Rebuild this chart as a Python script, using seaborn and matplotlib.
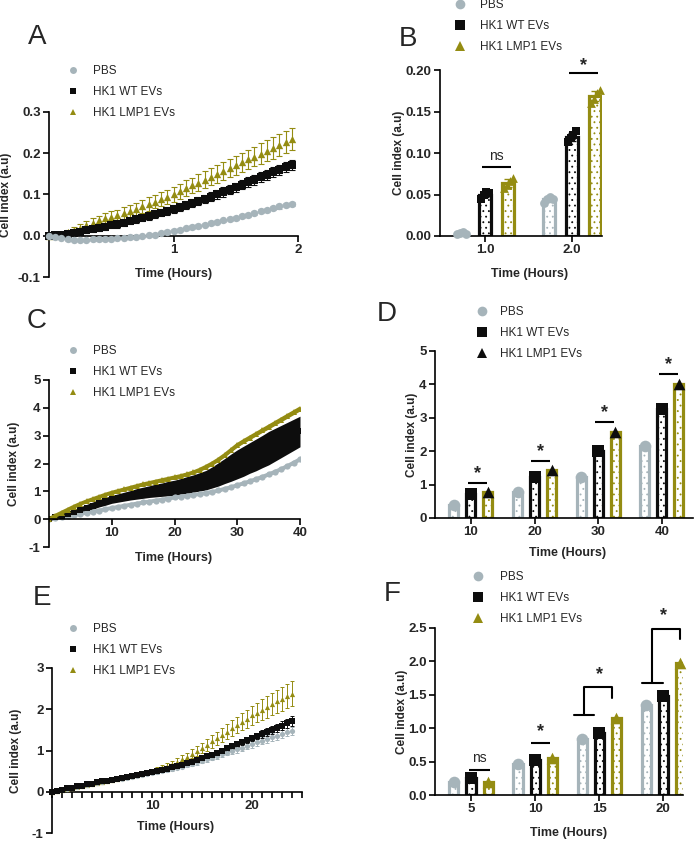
import numpy as np
import pandas as pd
import matplotlib
matplotlib.use("Agg")
import matplotlib.pyplot as plt
from matplotlib.lines import Line2D
from matplotlib.ticker import FormatStrFormatter, MultipleLocator
import seaborn as sns

GROUPS = ["PBS", "HK1 WT EVs", "HK1 LMP1 EVs"]
GREY, BLACK, OLIVE = "#a6b4ba", "#0d0d0d", "#948c12"
MARKERS = ["o", "s", "^"]

# ---- A: first 2 h, 3-min readings
a_time = [0.00, 0.05, 0.10, 0.15, 0.20, 0.25, 0.30, 0.35, 0.40, 0.45,
          0.50, 0.55, 0.60, 0.65, 0.70, 0.75, 0.80, 0.85, 0.90, 0.95,
          1.00, 1.05, 1.10, 1.15, 1.20, 1.25, 1.30, 1.35, 1.40, 1.45,
          1.50, 1.55, 1.60, 1.65, 1.70, 1.75, 1.80, 1.85, 1.90, 1.95]
a_pbs = [0.000, -0.002, -0.006, -0.009, -0.010, -0.010, -0.010, -0.009, -0.009, -0.008,
         -0.007, -0.006, -0.005, -0.004, -0.002, -0.001, 0.001, 0.003, 0.006, 0.009,
         0.012, 0.015, 0.018, 0.021, 0.024, 0.027, 0.031, 0.034, 0.037, 0.041,
         0.044, 0.047, 0.051, 0.055, 0.059, 0.063, 0.067, 0.071, 0.075, 0.078]
a_wt = [0.000, 0.001, 0.002, 0.004, 0.007, 0.010, 0.013, 0.016, 0.019, 0.022,
        0.025, 0.028, 0.032, 0.036, 0.040, 0.044, 0.048, 0.052, 0.056, 0.060,
        0.064, 0.069, 0.074, 0.079, 0.084, 0.089, 0.095, 0.100, 0.106, 0.112,
        0.118, 0.124, 0.130, 0.136, 0.142, 0.148, 0.154, 0.160, 0.166, 0.172]
a_lmp1 = [0.000, 0.002, 0.005, 0.009, 0.014, 0.020, 0.026, 0.032, 0.037, 0.042,
          0.046, 0.050, 0.055, 0.060, 0.065, 0.071, 0.077, 0.083, 0.089, 0.095,
          0.101, 0.108, 0.115, 0.122, 0.129, 0.136, 0.143, 0.150, 0.157, 0.164,
          0.171, 0.178, 0.185, 0.192, 0.199, 0.206, 0.213, 0.220, 0.227, 0.235]
a_pbs_err = [0.000, 0.002, 0.003, 0.003, 0.003, 0.003, 0.003, 0.003, 0.003, 0.003,
             0.003, 0.003, 0.003, 0.003, 0.003, 0.003, 0.003, 0.003, 0.004, 0.004,
             0.004, 0.004, 0.004, 0.004, 0.004, 0.004, 0.004, 0.004, 0.004, 0.005,
             0.005, 0.005, 0.005, 0.005, 0.005, 0.005, 0.005, 0.005, 0.005, 0.005]
a_wt_err = [0.000, 0.001, 0.002, 0.003, 0.004, 0.005, 0.006, 0.006, 0.007, 0.007,
            0.007, 0.008, 0.008, 0.008, 0.008, 0.009, 0.009, 0.009, 0.009, 0.009,
            0.010, 0.010, 0.010, 0.010, 0.010, 0.010, 0.011, 0.011, 0.011, 0.011,
            0.011, 0.011, 0.012, 0.012, 0.012, 0.012, 0.012, 0.012, 0.012, 0.012]
a_lmp1_err = [0.000, 0.002, 0.004, 0.006, 0.008, 0.009, 0.010, 0.011, 0.012, 0.012,
              0.013, 0.013, 0.014, 0.014, 0.015, 0.015, 0.016, 0.016, 0.017, 0.017,
              0.018, 0.018, 0.019, 0.019, 0.020, 0.020, 0.021, 0.021, 0.022, 0.022,
              0.023, 0.023, 0.024, 0.024, 0.025, 0.025, 0.026, 0.026, 0.027, 0.027]

# ---- B: replicate wells at 1 h and 2 h
b_time = ["1.0", "2.0"]
b_pbs = [[0.002, 0.004, 0.005, 0.003], [0.040, 0.044, 0.047, 0.045]]
b_wt = [[0.045, 0.050, 0.053, 0.052], [0.113, 0.118, 0.122, 0.126]]
b_lmp1 = [[0.058, 0.062, 0.066, 0.070], [0.160, 0.165, 0.172, 0.176]]
b_sig = ["ns", "*"]
b_sig_y = [0.083, 0.196]

# ---- C: 40 h, hourly
c_time = [0, 1, 2, 3, 4, 5, 6, 7, 8, 9,
          10, 11, 12, 13, 14, 15, 16, 17, 18, 19,
          20, 21, 22, 23, 24, 25, 26, 27, 28, 29,
          30, 31, 32, 33, 34, 35, 36, 37, 38, 39, 40]
c_pbs = [0.00, 0.03, 0.07, 0.11, 0.15, 0.19, 0.23, 0.27, 0.31, 0.36,
         0.40, 0.44, 0.48, 0.52, 0.56, 0.60, 0.63, 0.67, 0.70, 0.74,
         0.78, 0.81, 0.84, 0.87, 0.90, 0.94, 0.98, 1.03, 1.09, 1.15,
         1.22, 1.29, 1.36, 1.44, 1.52, 1.61, 1.70, 1.80, 1.91, 2.03, 2.15]
c_wt = [0.00, 0.06, 0.12, 0.19, 0.26, 0.33, 0.41, 0.49, 0.57, 0.64,
        0.71, 0.76, 0.81, 0.86, 0.91, 0.95, 0.99, 1.03, 1.06, 1.10,
        1.13, 1.18, 1.23, 1.28, 1.34, 1.40, 1.50, 1.61, 1.73, 1.85,
        1.97, 2.08, 2.20, 2.31, 2.43, 2.55, 2.67, 2.79, 2.91, 3.03, 3.15]
c_lmp1 = [0.00, 0.12, 0.23, 0.34, 0.45, 0.55, 0.64, 0.72, 0.80, 0.88,
          0.95, 1.01, 1.07, 1.13, 1.19, 1.25, 1.30, 1.35, 1.40, 1.45,
          1.50, 1.55, 1.61, 1.68, 1.77, 1.88, 2.00, 2.14, 2.30, 2.48,
          2.66, 2.80, 2.93, 3.06, 3.19, 3.32, 3.45, 3.58, 3.71, 3.84, 3.97]
c_pbs_err = [0.00, 0.01, 0.01, 0.02, 0.02, 0.02, 0.02, 0.02, 0.02, 0.02,
             0.02, 0.02, 0.02, 0.02, 0.02, 0.02, 0.03, 0.03, 0.03, 0.03,
             0.03, 0.03, 0.03, 0.03, 0.03, 0.03, 0.04, 0.04, 0.04, 0.04,
             0.04, 0.04, 0.04, 0.04, 0.05, 0.05, 0.05, 0.05, 0.05, 0.05, 0.05]
c_wt_err = [0.00, 0.03, 0.05, 0.07, 0.09, 0.11, 0.12, 0.13, 0.13, 0.14,
            0.14, 0.15, 0.16, 0.17, 0.19, 0.20, 0.21, 0.23, 0.24, 0.26,
            0.27, 0.28, 0.30, 0.31, 0.33, 0.35, 0.38, 0.42, 0.45, 0.49,
            0.52, 0.54, 0.55, 0.57, 0.58, 0.60, 0.59, 0.58, 0.57, 0.56, 0.55]
c_lmp1_err = [0.00, 0.01, 0.02, 0.02, 0.03, 0.03, 0.03, 0.03, 0.03, 0.03,
              0.04, 0.04, 0.04, 0.04, 0.04, 0.04, 0.04, 0.04, 0.05, 0.05,
              0.05, 0.05, 0.05, 0.05, 0.05, 0.06, 0.06, 0.06, 0.06, 0.06,
              0.07, 0.07, 0.07, 0.07, 0.07, 0.08, 0.08, 0.08, 0.08, 0.08, 0.08]

# ---- D: means at 10/20/30/40 h
d_time = ["10", "20", "30", "40"]
d_pbs = [0.40, 0.78, 1.22, 2.15]
d_wt = [0.72, 1.24, 2.00, 3.25]
d_lmp1 = [0.77, 1.45, 2.57, 4.00]
d_sig_y = [1.05, 1.72, 2.87, 4.30]

# ---- E: 24 h, half-hourly
e_time = [0.0, 0.5, 1.0, 1.5, 2.0, 2.5, 3.0, 3.5, 4.0, 4.5,
          5.0, 5.5, 6.0, 6.5, 7.0, 7.5, 8.0, 8.5, 9.0, 9.5,
          10.0, 10.5, 11.0, 11.5, 12.0, 12.5, 13.0, 13.5, 14.0, 14.5,
          15.0, 15.5, 16.0, 16.5, 17.0, 17.5, 18.0, 18.5, 19.0, 19.5,
          20.0, 20.5, 21.0, 21.5, 22.0, 22.5, 23.0, 23.5, 24.0]
e_pbs = [0.00, 0.02, 0.04, 0.06, 0.09, 0.11, 0.14, 0.16, 0.19, 0.21,
         0.24, 0.26, 0.28, 0.30, 0.32, 0.34, 0.36, 0.38, 0.40, 0.42,
         0.45, 0.47, 0.50, 0.52, 0.55, 0.58, 0.61, 0.64, 0.68, 0.71,
         0.75, 0.79, 0.83, 0.87, 0.91, 0.95, 0.99, 1.03, 1.07, 1.11,
         1.15, 1.20, 1.24, 1.28, 1.32, 1.36, 1.40, 1.44, 1.48]
e_wt = [0.00, 0.03, 0.05, 0.08, 0.10, 0.13, 0.15, 0.18, 0.20, 0.23,
        0.25, 0.27, 0.29, 0.31, 0.33, 0.36, 0.38, 0.41, 0.43, 0.46,
        0.48, 0.51, 0.53, 0.56, 0.59, 0.62, 0.65, 0.69, 0.73, 0.77,
        0.81, 0.86, 0.90, 0.95, 1.00, 1.05, 1.10, 1.15, 1.20, 1.25,
        1.30, 1.35, 1.40, 1.45, 1.50, 1.55, 1.60, 1.66, 1.72]
e_lmp1 = [0.00, 0.02, 0.04, 0.06, 0.09, 0.11, 0.14, 0.16, 0.19, 0.21,
          0.24, 0.26, 0.28, 0.30, 0.33, 0.35, 0.38, 0.41, 0.44, 0.47,
          0.51, 0.55, 0.59, 0.63, 0.68, 0.73, 0.79, 0.85, 0.92, 0.99,
          1.06, 1.14, 1.22, 1.30, 1.38, 1.46, 1.54, 1.62, 1.70, 1.77,
          1.85, 1.92, 1.99, 2.06, 2.12, 2.19, 2.25, 2.32, 2.38]
e_pbs_err = [0.00, 0.00, 0.01, 0.01, 0.01, 0.01, 0.01, 0.01, 0.01, 0.01,
             0.01, 0.01, 0.01, 0.01, 0.01, 0.02, 0.02, 0.02, 0.02, 0.02,
             0.03, 0.03, 0.03, 0.03, 0.04, 0.04, 0.04, 0.05, 0.05, 0.05,
             0.06, 0.06, 0.06, 0.07, 0.07, 0.07, 0.08, 0.08, 0.08, 0.08,
             0.09, 0.09, 0.09, 0.09, 0.10, 0.10, 0.10, 0.10, 0.10]
e_wt_err = [0.00, 0.00, 0.01, 0.01, 0.01, 0.01, 0.01, 0.01, 0.01, 0.01,
            0.01, 0.01, 0.01, 0.01, 0.01, 0.01, 0.01, 0.01, 0.02, 0.02,
            0.02, 0.02, 0.02, 0.02, 0.03, 0.03, 0.03, 0.03, 0.04, 0.04,
            0.04, 0.05, 0.05, 0.05, 0.06, 0.06, 0.06, 0.07, 0.07, 0.08,
            0.08, 0.08, 0.09, 0.09, 0.10, 0.10, 0.11, 0.11, 0.12]
e_lmp1_err = [0.00, 0.01, 0.01, 0.01, 0.01, 0.01, 0.01, 0.02, 0.02, 0.02,
              0.02, 0.02, 0.02, 0.02, 0.02, 0.02, 0.03, 0.03, 0.03, 0.04,
              0.04, 0.05, 0.05, 0.06, 0.07, 0.08, 0.09, 0.10, 0.11, 0.12,
              0.13, 0.14, 0.15, 0.16, 0.17, 0.18, 0.19, 0.20, 0.21, 0.22,
              0.23, 0.24, 0.25, 0.26, 0.27, 0.28, 0.29, 0.30, 0.31]

# ---- F: means at 5/10/15/20 h
f_time = ["5", "10", "15", "20"]
f_pbs = [0.20, 0.47, 0.84, 1.35]
f_wt = [0.25, 0.52, 0.93, 1.48]
f_lmp1 = [0.20, 0.56, 1.15, 1.98]

# ------------------------------------------------------------------ layout
W, H = 694, 841
sns.set_style("ticks")
plt.rcParams["font.family"] = ["Liberation Sans", "DejaVu Sans"]
plt.rcParams["font.weight"] = "bold"
plt.rcParams["axes.unicode_minus"] = False
plt.rcParams["hatch.linewidth"] = 0.6

fig = plt.figure(figsize=(W / 100, H / 100), dpi=100)
SLOT = 0.8 / 3  # hue offset used by barplot(width=0.8) with three groups


def add_axes(left, top, right, bottom):
    return fig.add_axes([left / W, 1 - bottom / H, (right - left) / W, (bottom - top) / H])


def style(ax, ylab_x, xlab_x, xlab_y):
    sns.despine(ax=ax)
    for s in ("left", "bottom"):
        ax.spines[s].set_linewidth(1.2)
        ax.spines[s].set_color("black")
    ax.tick_params(direction="out", length=4, width=1.2, labelsize=9.5, color="black", pad=2)
    ax.set_ylabel("Cell index (a.u)", fontsize=8.5, fontweight="bold")
    ax.set_xlabel("Time (Hours)", fontsize=9, fontweight="bold")
    ax.yaxis.set_label_coords(ylab_x, 0.5)
    ax.xaxis.set_label_coords(xlab_x, xlab_y)


def add_legend(ax, x0, y0, pad, colors, ms):
    handles = [Line2D([], [], ls="none", marker=m, color=c, markersize=ms, markeredgewidth=0)
               for m, c in zip(MARKERS, colors)]
    ax.legend(handles, GROUPS, loc="upper left", bbox_to_anchor=(x0 / W, 1 - y0 / H),
              bbox_transform=fig.transFigure, frameon=False, borderpad=0, borderaxespad=0,
              handlelength=1.0, handletextpad=pad, labelspacing=0.75,
              prop={"size": 8.5, "weight": "normal"})


def letter(cx, cy, s):
    fig.text(cx / W, 1 - cy / H, s, fontsize=20, fontweight="normal", ha="center", va="center")


def draw_bars(ax, times, means, point_colors=None, size=70):
    frame = pd.DataFrame({
        "time": times * 3,
        "group": [g for g in GROUPS for _ in times],
        "value": [v for series in means for v in series],
    })
    sns.barplot(data=frame, x="time", y="value", hue="group", order=times, hue_order=GROUPS,
                palette=[GREY, BLACK, OLIVE], saturation=1, width=0.8, gap=0.47,
                errorbar=None, legend=False, ax=ax)
    for bar in ax.patches:
        c = bar.get_facecolor()
        bar.set_facecolor("white")
        bar.set_edgecolor(c)
        bar.set_linewidth(2.3)
        bar.set_hatch("...")
    if point_colors is None:
        return
    for g, (series, color) in enumerate(zip(means, point_colors)):
        xs = np.arange(len(times)) + (g - 1) * SLOT
        sns.scatterplot(x=xs, y=series, marker=MARKERS[g], s=size, color=color,
                        linewidth=0, zorder=4, clip_on=False, legend=False, ax=ax)


def sig_line(ax, x0, x1, y, label, ty, fs):
    ax.plot([x0, x1], [y, y], color="black", lw=1.5, clip_on=False, solid_capstyle="butt")
    weight = "normal" if label == "ns" else "bold"
    ax.text((x0 + x1) / 2, ty, label, ha="center", va="center", fontsize=fs,
            fontweight=weight, clip_on=False)


# ---- A
ax = add_axes(49, 112, 298, 277)
for vals, err, m, c in [(a_lmp1, a_lmp1_err, "^", OLIVE), (a_wt, a_wt_err, "s", BLACK),
                        (a_pbs, a_pbs_err, "o", GREY)]:
    ax.errorbar(a_time, vals, yerr=err, fmt="none", ecolor=c, elinewidth=0.8,
                capsize=2.2, capthick=0.8)
    sns.scatterplot(x=a_time, y=vals, marker=m, color=c, s=28, linewidth=0,
                    zorder=3, clip_on=False, legend=False, ax=ax)
ax.set_xlim(0, 2)
ax.set_ylim(-0.1, 0.3)
ax.set_xticks([1, 2])
ax.set_yticks([-0.1, 0.0, 0.1, 0.2, 0.3])
ax.yaxis.set_major_formatter(FormatStrFormatter("%.1f"))
style(ax, -0.15, 0.5, 0.055)
ax.spines["bottom"].set_position(("data", 0))
add_legend(ax, 67, 65, 1.2, [GREY, BLACK, OLIVE], 5)
letter(37, 37, "A")

# ---- B
ax = add_axes(440, 70, 602, 236)
b_reps = [b_pbs, b_wt, b_lmp1]
draw_bars(ax, b_time, [np.mean(r, axis=1) for r in b_reps])
jitter = [-0.05, -0.017, 0.017, 0.05]
for g, (reps, color) in enumerate(zip(b_reps, [GREY, BLACK, OLIVE])):
    reps = np.array(reps)
    xs = np.arange(len(b_time)) + (g - 1) * SLOT
    ax.errorbar(xs, reps.mean(axis=1), yerr=reps.std(axis=1), fmt="none", ecolor=color,
                elinewidth=1.0, capsize=3, capthick=1.0, zorder=3)
    px = (xs[:, None] + np.array(jitter)[None, :]).ravel()
    sns.scatterplot(x=px, y=reps.ravel(), marker=MARKERS[g], s=40, color=color,
                    linewidth=0, zorder=4, clip_on=False, legend=False, ax=ax)
for i, (lab, y) in enumerate(zip(b_sig, b_sig_y)):
    sig_line(ax, i - 0.03, i + SLOT + 0.03, y, lab,
             y + (0.013 if lab == "ns" else 0.009), 10 if lab == "ns" else 13)
ax.set_xlim(-0.517, 1.345)
ax.set_ylim(0, 0.2)
ax.set_yticks([0, 0.05, 0.10, 0.15, 0.20])
ax.yaxis.set_major_formatter(FormatStrFormatter("%.2f"))
style(ax, -0.216, 0.55, -0.193)
add_legend(ax, 454, -1, 1.2, [GREY, BLACK, OLIVE], 7)
letter(408, 39, "B")

# ---- C
ax = add_axes(49, 380, 300, 547)
for vals, err, m, c in [(c_pbs, c_pbs_err, "o", GREY), (c_wt, c_wt_err, "s", BLACK),
                        (c_lmp1, c_lmp1_err, "^", OLIVE)]:
    v, e = np.array(vals), np.array(err)
    ax.fill_between(c_time, v - e, v + e, color=c, lw=0)
    sns.lineplot(x=c_time, y=vals, color=c, lw=2.8, marker=m, markersize=4.5,
                 markeredgewidth=0, errorbar=None, ax=ax)
ax.set_xlim(0, 40)
ax.set_ylim(-1, 5)
ax.set_xticks([10, 20, 30, 40])
ax.set_yticks([-1, 0, 1, 2, 3, 4, 5])
style(ax, -0.116, 0.498, -0.03)
ax.spines["bottom"].set_position(("data", 0))
add_legend(ax, 67, 345, 1.2, [GREY, BLACK, OLIVE], 5)
letter(37, 321, "C")

# ---- D
ax = add_axes(435, 351, 693, 518)
draw_bars(ax, d_time, [d_pbs, d_wt, d_lmp1], [GREY, BLACK, BLACK])
for i, y in enumerate(d_sig_y):
    sig_line(ax, i - 0.05, i + 0.25, y, "*", y + 0.28, 13)
ax.set_xlim(-0.565, 3.49)
ax.set_ylim(0, 5)
ax.set_yticks([0, 1, 2, 3, 4, 5])
style(ax, -0.066, 0.514, -0.174)
add_legend(ax, 476, 306, 1.03, [GREY, BLACK, BLACK], 7)
letter(387, 314, "D")

# ---- E
ax = add_axes(52, 668, 302, 833)
for vals, err, m, c in [(e_lmp1, e_lmp1_err, "^", OLIVE), (e_pbs, e_pbs_err, "o", GREY),
                        (e_wt, e_wt_err, "s", BLACK)]:
    ax.errorbar(e_time, vals, yerr=err, fmt="none", ecolor=c, elinewidth=0.7,
                capsize=1.5, capthick=0.7)
    sns.scatterplot(x=e_time, y=vals, marker=m, color=c, s=14, linewidth=0,
                    zorder=3, clip_on=False, legend=False, ax=ax)
ax.set_xlim(0, 25)
ax.set_ylim(-1, 3)
ax.set_xticks([10, 20])
ax.xaxis.set_minor_locator(MultipleLocator(1))
ax.set_yticks([-1, 0, 1, 2, 3])
style(ax, -0.12, 0.494, 0.07)
ax.tick_params(axis="x", which="minor", length=4, width=1.2, color="black")
ax.spines["bottom"].set_position(("data", 0))
add_legend(ax, 67, 623, 1.2, [GREY, BLACK, OLIVE], 5)
letter(42, 598, "E")

# ---- F
ax = add_axes(435, 628, 683, 795)
draw_bars(ax, f_time, [f_pbs, f_wt, f_lmp1], [GREY, BLACK, OLIVE])
sig_line(ax, -0.03, 0.30, 0.37, "ns", 0.55, 10)
sig_line(ax, 0.94, 1.23, 0.78, "*", 0.95, 13)
# brackets comparing the PBS/WT pair with LMP1: (group, low bar x0, x1, stem x, right x, low y, top y, drop y, star y)
brackets = [(2, -0.39, -0.08, -0.23, 0.20, 1.20, 1.61, 1.45, 1.80),
            (3, -0.33, 0.00, -0.17, 0.27, 1.68, 2.48, 2.33, 2.68)]
for i, x0, x1, stem, right, low, top, drop, star in brackets:
    ax.plot([i + x0, i + x1], [low, low], color="black", lw=1.5, clip_on=False)
    ax.plot([i + stem, i + stem, i + right, i + right], [low, top, top, drop],
            color="black", lw=1.5, clip_on=False)
    ax.text(i, star, "*", ha="center", va="center", fontsize=13, fontweight="bold",
            clip_on=False)
ax.set_xlim(-0.5625, 3.31)
ax.set_ylim(0, 2.5)
ax.set_yticks([0, 0.5, 1.0, 1.5, 2.0, 2.5])
ax.yaxis.set_major_formatter(FormatStrFormatter("%.1f"))
style(ax, -0.109, 0.538, -0.19)
add_legend(ax, 472, 571, 1.37, [GREY, BLACK, OLIVE], 7)
letter(392, 594, "F")

fig.savefig("out.png", dpi=100)
